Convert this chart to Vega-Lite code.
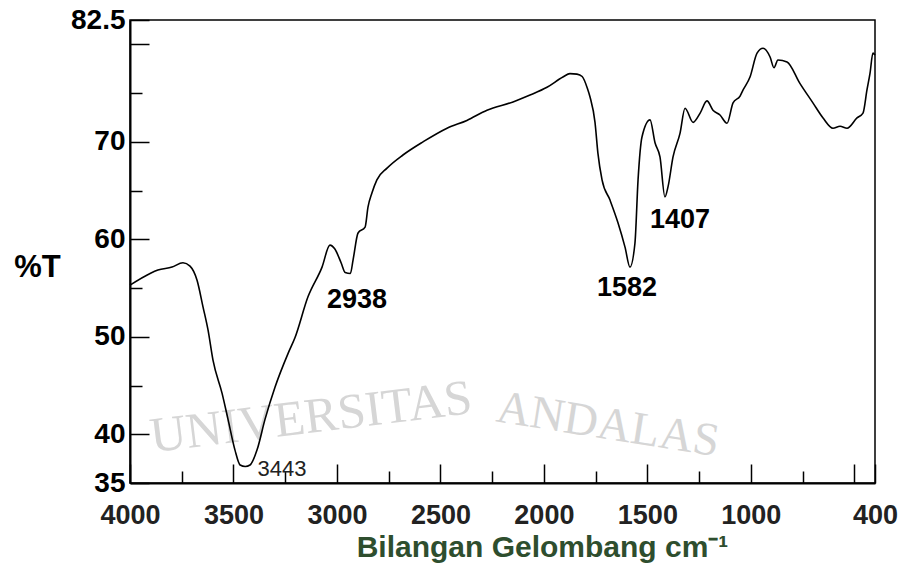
{
  "$schema": "https://vega.github.io/schema/vega-lite/v6.json",
  "width": 745,
  "height": 463,
  "autosize": {"type": "none"},
  "padding": {"left": 130, "top": 20, "right": 28, "bottom": 88},
  "background": "white",
  "config": {
    "view": {"stroke": "black", "strokeWidth": 1.5},
    "font": "Liberation Sans",
    "axis": {"grid": false}
  },
  "datasets": {
    "spectrum": [
      {"wn": 4000, "t": 55.3}, {"wn": 3903, "t": 56.5}, {"wn": 3865, "t": 56.85},
      {"wn": 3797, "t": 57.15}, {"wn": 3744, "t": 57.6}, {"wn": 3710, "t": 57.25},
      {"wn": 3676, "t": 55.8}, {"wn": 3647, "t": 53.05}, {"wn": 3623, "t": 50.7},
      {"wn": 3599, "t": 47.6}, {"wn": 3555, "t": 44.2}, {"wn": 3526, "t": 41.5},
      {"wn": 3493, "t": 38.4}, {"wn": 3468, "t": 36.85}, {"wn": 3443, "t": 36.7},
      {"wn": 3420, "t": 36.85}, {"wn": 3386, "t": 38.4}, {"wn": 3348, "t": 41.5},
      {"wn": 3299, "t": 44.85}, {"wn": 3236, "t": 48.3}, {"wn": 3203, "t": 49.9},
      {"wn": 3140, "t": 54.1}, {"wn": 3072, "t": 57.15}, {"wn": 3034, "t": 59.4},
      {"wn": 3010, "t": 59.0}, {"wn": 2980, "t": 57.6}, {"wn": 2960, "t": 56.6},
      {"wn": 2935, "t": 56.5}, {"wn": 2922, "t": 57.9}, {"wn": 2898, "t": 60.65},
      {"wn": 2864, "t": 61.25}, {"wn": 2850, "t": 63.3}, {"wn": 2831, "t": 64.75},
      {"wn": 2807, "t": 66.1}, {"wn": 2758, "t": 67.3}, {"wn": 2681, "t": 68.65},
      {"wn": 2584, "t": 70.0}, {"wn": 2468, "t": 71.4}, {"wn": 2372, "t": 72.2},
      {"wn": 2275, "t": 73.25}, {"wn": 2149, "t": 74.1}, {"wn": 2067, "t": 74.8},
      {"wn": 1985, "t": 75.6}, {"wn": 1908, "t": 76.65}, {"wn": 1874, "t": 77.0},
      {"wn": 1840, "t": 76.95}, {"wn": 1815, "t": 76.7}, {"wn": 1790, "t": 75.5},
      {"wn": 1777, "t": 74.6}, {"wn": 1753, "t": 72.0}, {"wn": 1739, "t": 68.85},
      {"wn": 1719, "t": 66.1}, {"wn": 1681, "t": 64.05}, {"wn": 1642, "t": 61.7},
      {"wn": 1608, "t": 59.2}, {"wn": 1584, "t": 57.15}, {"wn": 1560, "t": 59.6},
      {"wn": 1545, "t": 66.1}, {"wn": 1526, "t": 70.5}, {"wn": 1487, "t": 72.25},
      {"wn": 1463, "t": 69.9}, {"wn": 1439, "t": 68.45}, {"wn": 1415, "t": 64.35},
      {"wn": 1400, "t": 65.4}, {"wn": 1376, "t": 68.45}, {"wn": 1342, "t": 70.9},
      {"wn": 1318, "t": 73.45}, {"wn": 1279, "t": 72.0}, {"wn": 1245, "t": 72.95},
      {"wn": 1212, "t": 74.2}, {"wn": 1183, "t": 73.25}, {"wn": 1149, "t": 72.75},
      {"wn": 1115, "t": 71.9}, {"wn": 1086, "t": 74.0}, {"wn": 1052, "t": 74.7},
      {"wn": 1038, "t": 75.3}, {"wn": 1004, "t": 76.65}, {"wn": 970, "t": 79.1},
      {"wn": 941, "t": 79.6}, {"wn": 907, "t": 78.7}, {"wn": 888, "t": 77.6},
      {"wn": 869, "t": 78.4}, {"wn": 825, "t": 78.2}, {"wn": 763, "t": 76.0},
      {"wn": 700, "t": 74.0}, {"wn": 651, "t": 72.45}, {"wn": 603, "t": 71.4},
      {"wn": 569, "t": 71.6}, {"wn": 535, "t": 71.4}, {"wn": 487, "t": 72.45},
      {"wn": 458, "t": 72.95}, {"wn": 439, "t": 75.3}, {"wn": 424, "t": 77.05},
      {"wn": 410, "t": 79.1}, {"wn": 400, "t": 78.9}
    ],
    "peaks": [
      {"label": "2938", "wn": 2903, "t": 53.8},
      {"label": "1582", "wn": 1598, "t": 55.0},
      {"label": "1407", "wn": 1342, "t": 62.0}
    ],
    "peakSmall": [
      {"label": "3443", "wn": 3266, "t": 36.4}
    ],
    "watermark": [
      {"word": "UNIVERSITAS", "wn": 3125, "t": 41.7},
      {"word": "ANDALAS", "wn": 1690, "t": 40.95}
    ]
  },
  "layer": [
    {
      "data": {"name": "watermark"},
      "transform": [{"filter": "datum.word == 'UNIVERSITAS'"}],
      "mark": {"type": "text", "angle": -7, "font": "Liberation Serif", "fontSize": 50, "color": "#d6d6d6", "align": "center", "baseline": "middle"},
      "encoding": {
        "x": {"field": "wn", "type": "quantitative", "scale": {"domain": [400, 4000], "reverse": true, "nice": false, "zero": false}, "axis": null},
        "y": {"field": "t", "type": "quantitative", "scale": {"domain": [35, 82.5], "nice": false, "zero": false}, "axis": null},
        "text": {"field": "word"}
      }
    },
    {
      "data": {"name": "watermark"},
      "transform": [{"filter": "datum.word == 'ANDALAS'"}],
      "mark": {"type": "text", "angle": 9, "font": "Liberation Serif", "fontSize": 47, "color": "#d6d6d6", "align": "center", "baseline": "middle"},
      "encoding": {
        "x": {"field": "wn", "type": "quantitative", "scale": {"domain": [400, 4000], "reverse": true, "nice": false, "zero": false}, "axis": null},
        "y": {"field": "t", "type": "quantitative", "scale": {"domain": [35, 82.5], "nice": false, "zero": false}, "axis": null},
        "text": {"field": "word"}
      }
    },
    {
      "data": {"name": "spectrum"},
      "mark": {"type": "line", "color": "black", "strokeWidth": 1.6, "interpolate": "monotone"},
      "encoding": {
        "x": {
          "field": "wn", "type": "quantitative",
          "scale": {"domain": [400, 4000], "reverse": true, "nice": false, "zero": false},
          "axis": {
            "orient": "bottom",
            "values": [4000, 3500, 3000, 2500, 2000, 1500, 1000, 500, 400],
            "format": "d",
            "labelExpr": "datum.value == 500 ? '' : datum.label",
            "tickSize": -19, "tickWidth": 1.5, "tickColor": "black",
            "domainColor": "black", "domainWidth": 2,
            "labelFontSize": 27, "labelFontWeight": "bold", "labelColor": "#222222",
            "labelPadding": 38, "labelFlush": false, "labelOverlap": false,
            "title": "Bilangan Gelombang cm⁻¹",
            "titleFontSize": 30, "titleFontWeight": "bold", "titleColor": "#2e4e2e",
            "titleX": 412, "titleY": 73, "titleAlign": "center", "titleBaseline": "alphabetic"
          }
        },
        "y": {
          "field": "t", "type": "quantitative",
          "scale": {"domain": [35, 82.5], "nice": false, "zero": false},
          "axis": {
            "orient": "left",
            "values": [35, 40, 50, 60, 70, 80, 82.5],
            "format": ".3~g",
            "labelExpr": "datum.value == 80 ? '' : datum.label",
            "tickSize": -19, "tickWidth": 1.5, "tickColor": "black",
            "domainColor": "black", "domainWidth": 2,
            "labelFontSize": 28, "labelFontWeight": "bold", "labelColor": "black",
            "labelPadding": 24, "labelOverlap": false,
            "title": "%T", "titleAngle": 0, "titleX": -93, "titleY": 247,
            "titleAlign": "center", "titleBaseline": "middle",
            "titleFontSize": 31, "titleFontWeight": "bold", "titleColor": "black"
          }
        }
      }
    },
    {
      "data": {"name": "peaks"},
      "mark": {"type": "text", "fontSize": 27, "fontWeight": "bold", "color": "black", "align": "center", "baseline": "middle"},
      "encoding": {
        "x": {
          "field": "wn", "type": "quantitative",
          "scale": {"domain": [400, 4000], "reverse": true, "nice": false, "zero": false},
          "axis": {"orient": "bottom", "values": [3750, 3250, 2750, 2250, 1750, 1250, 750], "labels": false, "domain": false, "tickSize": -12, "tickWidth": 1.5, "tickColor": "black", "title": null}
        },
        "y": {
          "field": "t", "type": "quantitative",
          "scale": {"domain": [35, 82.5], "nice": false, "zero": false},
          "axis": {"orient": "left", "values": [45, 55, 65, 75], "labels": false, "domain": false, "tickSize": -12, "tickWidth": 1.5, "tickColor": "black", "title": null}
        },
        "text": {"field": "label"}
      }
    },
    {
      "data": {"name": "peakSmall"},
      "mark": {"type": "text", "fontSize": 22, "color": "#222222", "align": "center", "baseline": "middle"},
      "encoding": {
        "x": {"field": "wn", "type": "quantitative", "scale": {"domain": [400, 4000], "reverse": true, "nice": false, "zero": false}, "axis": null},
        "y": {"field": "t", "type": "quantitative", "scale": {"domain": [35, 82.5], "nice": false, "zero": false}, "axis": null},
        "text": {"field": "label"}
      }
    }
  ],
  "resolve": {"axis": {"x": "independent", "y": "independent"}}
}
